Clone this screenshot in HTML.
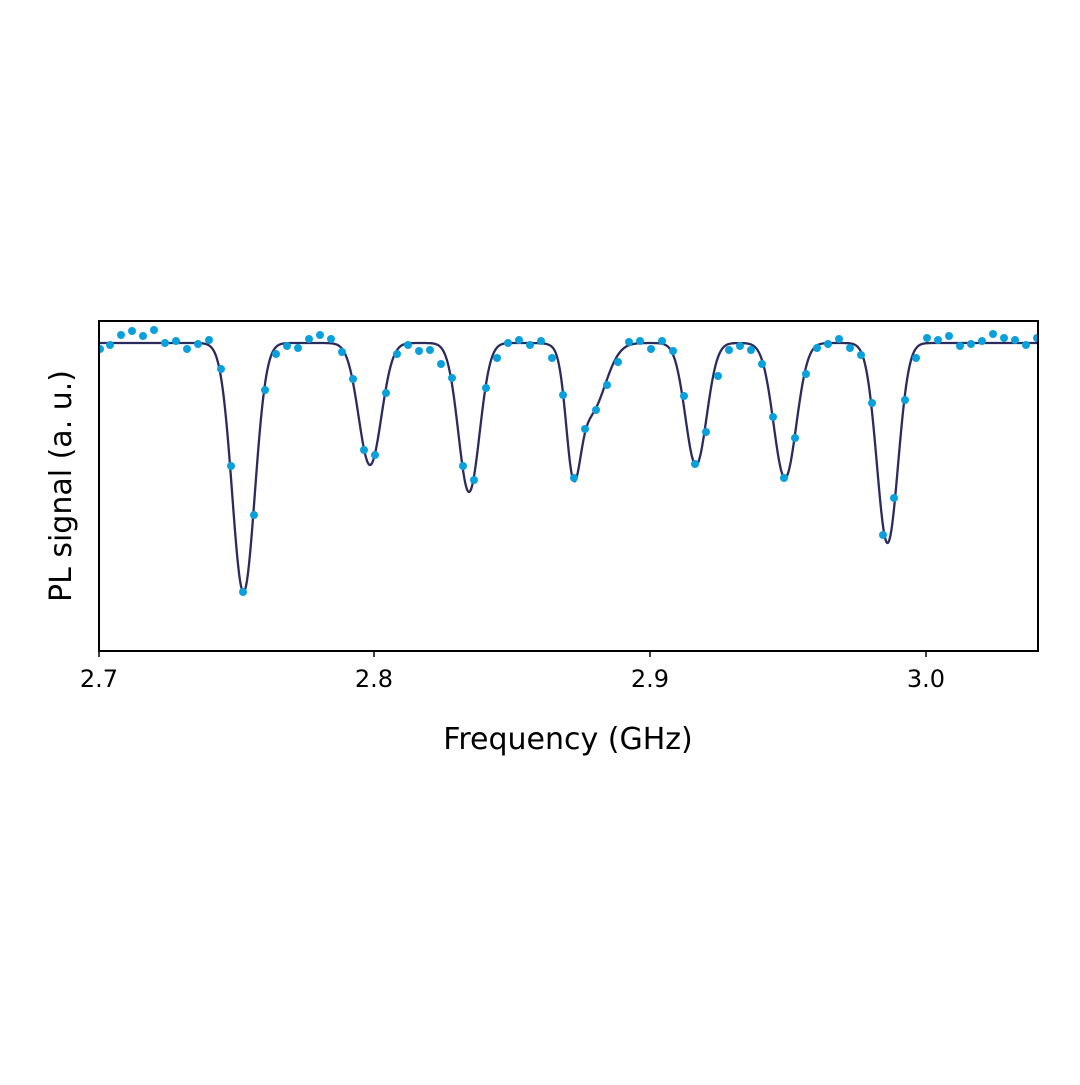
<!DOCTYPE html>
<html><head><meta charset="utf-8"><style>body{margin:0;background:#fff}</style></head>
<body>
<svg id="s" width="1080" height="1080" xmlns="http://www.w3.org/2000/svg" font-family="'DejaVu Sans','Liberation Sans',sans-serif">
<rect width="1080" height="1080" fill="#fff"/>
<defs><clipPath id="c"><rect x="99" y="321" width="939" height="330"/></clipPath></defs>
<path id="curve" d="" fill="none" stroke="#2b2b5c" stroke-width="2.3" clip-path="url(#c)"/>
<g id="dots" fill="#0aa0dc" clip-path="url(#c)"></g>
<rect x="99" y="321" width="939" height="330" fill="none" stroke="#000" stroke-width="2"/>
<g stroke="#000" stroke-width="1.5">
<line x1="99" y1="651" x2="99" y2="657"/><line x1="374" y1="651" x2="374" y2="657"/>
<line x1="650" y1="651" x2="650" y2="657"/><line x1="926" y1="651" x2="926" y2="657"/>
</g>
<g font-size="24" text-anchor="middle" fill="#000">
<text x="99" y="687">2.7</text><text x="374" y="687">2.8</text>
<text x="650" y="687">2.9</text><text x="926" y="687">3.0</text>
</g>
<text x="568" y="749" font-size="30" text-anchor="middle">Frequency (GHz)</text>
<text transform="translate(71,486) rotate(-90)" font-size="30" text-anchor="middle">PL signal (a. u.)</text>
</svg>
<script>
var dips=[[243.5,249,16],[370,122,16],[469,149,15],[573,100,10],[590,70,21],[696,122,15],[785,135,16],[887.5,200,15]];
var d="";
for(var x=99;x<=1038;x+=0.5){var y=343;for(var i=0;i<dips.length;i++){var t=(x-dips[i][0])/dips[i][2];y+=dips[i][1]*Math.exp(-t*t);}d+=(x==99?"M":"L")+x+" "+y.toFixed(1);}
document.getElementById("curve").setAttribute("d",d);
var pts=[[100,349],[110,345],[121,335],[132,331],[143,336],[154,330],[165,343],[176,341],[187,349],[198,344],[209,340],[221,369],[231,466],[243,592],[254,515],[265,390],[276,354],[287,346],[298,348],[309,339],[320,335],[331,339],[342,352],[353,379],[364,450],[375,455],[386,393],[397,354],[408,345],[419,351],[430,350],[441,364],[452,378],[463,466],[474,480],[486,388],[497,358],[508,343],[519,340],[530,345],[541,341],[552,358],[563,395],[574,478],[585,429],[596,410],[607,385],[618,362],[629,342],[640,341],[651,349],[662,341],[673,351],[684,396],[695,464],[706,432],[718,376],[729,350],[740,346],[751,350],[762,364],[773,417],[784,478],[795,438],[806,374],[817,348],[828,344],[839,339],[850,348],[861,355],[872,403],[883,535],[894,498],[905,400],[916,358],[927,338],[938,340],[949,336],[960,346],[971,344],[982,341],[993,334],[1004,338],[1015,340],[1026,345],[1037,338]];
var g=document.getElementById("dots"),h="";
pts.forEach(function(p){h+='<circle cx="'+p[0]+'" cy="'+p[1]+'" r="4"/>';});
g.innerHTML=h;
</script>
</body></html>
